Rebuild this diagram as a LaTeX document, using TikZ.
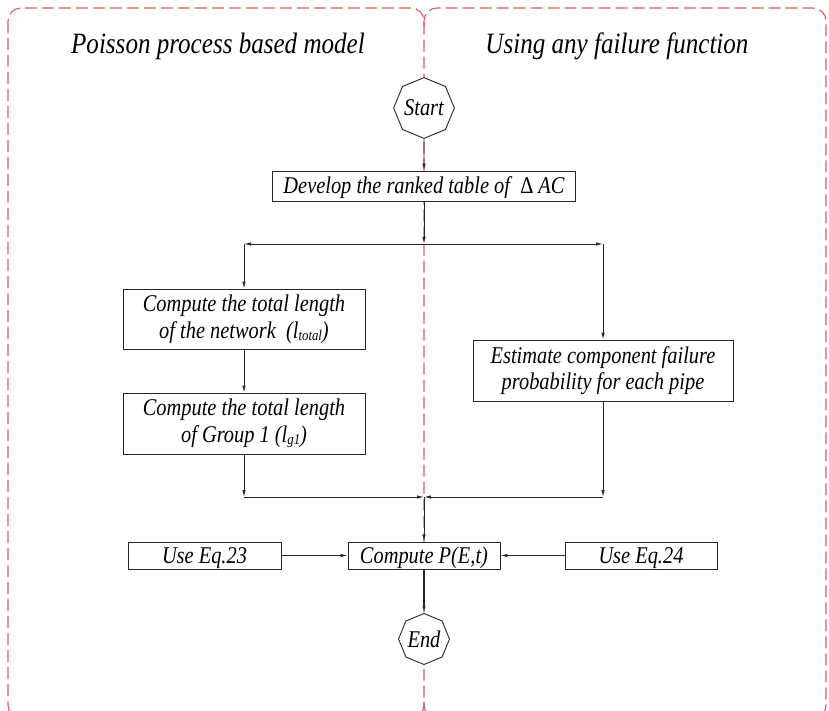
\documentclass[tikz,border=0pt]{standalone}
\usepackage{fontspec}
\setmainfont{Liberation Serif}[ItalicFont={Liberation Serif Italic}]
\newfontfamily\figfont{Liberation Serif}[ItalicFont={Liberation Serif Italic}, FakeStretch=0.85]
\usetikzlibrary{arrows.meta,shapes.geometric}
\definecolor{framered}{RGB}{226,88,98}
\definecolor{linegray}{RGB}{40,40,40}
\tikzset{
  frame/.style={draw=framered, line width=1.1pt, dash pattern=on 12pt off 5pt, rounded corners=13pt},
  box/.style={draw=linegray, line width=0.9pt, rectangle, inner sep=0pt, align=center,
    font=\figfont\fontsize{24}{26.5}\selectfont\itshape},
  onebox/.style={box, text height=19pt, text depth=4pt},
  oct/.style={draw=linegray, line width=0.9pt, regular polygon, regular polygon sides=8,
    shape border rotate=22.5, minimum size=51pt, inner sep=0pt,
    font=\figfont\fontsize{24}{26}\selectfont\itshape},
  title/.style={font=\figfont\fontsize{29.5}{32}\selectfont\itshape, inner sep=0pt},
  conn/.style={draw=linegray, line width=0.9pt},
  arr/.style={conn, -{Latex[length=7pt,width=3.5pt]}},
}
\newcommand{\sbs}[1]{\raisebox{-2pt}{\fontsize{15}{15}\selectfont #1}}
\begin{document}
\begin{tikzpicture}[x=1pt,y=-1pt]
\useasboundingbox (0,0) rectangle (829,711);
\clip (0,0) rectangle (829,711);
% frames
\draw[frame] (8,8) rectangle (424,718);
\draw[frame] (424,26) -- (424,8) -- (826,8) -- (826,718) -- (424,718) -- (424,700);
% titles
\node[title] (tl) at (218,46) {Poisson process based model};
\node[title] (tr) at (617,46) {Using any failure function};
% nodes
\node[oct, fill=white] (start) at (424,108) {Start};
\node[onebox, fill=white, minimum width=303pt, minimum height=30pt] (dev) at (424,186) {Develop the ranked table of \ {\upshape Δ} AC};
\node[box, minimum width=242pt, minimum height=60pt] (b1) at (244,319) {Compute the total length\\of the network \ (l\sbs{total})};
\node[box, minimum width=242pt, minimum height=61pt] (b2) at (244,423.5) {Compute the total length\\of Group 1 (l\sbs{g1})};
\node[box, minimum width=260pt, minimum height=61pt] (b3) at (603,370.5) {Estimate component failure\\probability for each pipe};
\node[onebox, minimum width=153pt, minimum height=27pt] (eq23) at (204.5,555.5) {Use Eq.23};
\node[onebox, fill=white, minimum width=152pt, minimum height=27pt] (comp) at (424,555.5) {Compute P(E,t)};
\node[onebox, minimum width=152pt, minimum height=27pt] (eq24) at (641,555.5) {Use Eq.24};
\node[oct, fill=white] (end) at (424,639) {End};
% junction coordinates
\coordinate (split) at (424,244);
\coordinate (sl) at (244,244);
\coordinate (sr) at (603,244);
\coordinate (merge) at (424,497);
\coordinate (ml) at (244,497);
\coordinate (mr) at (603,497);
% connectors
\draw[arr] (start.south) -- (dev.north);
\draw[arr] (dev.south) -- (split);
\draw[arr] (split) -- (sl);
\draw[arr] (split) -- (sr);
\draw[arr] (sl) -- (b1.north);
\draw[arr] (sr) -- (b3.north);
\draw[arr] (b1.south) -- (b2.north);
\draw[arr] (b2.south) -- (ml);
\draw[arr] (b3.south) -- (mr);
\draw[arr] (ml) -- (merge);
\draw[arr] (mr) -- (merge);
\draw[arr] (merge) -- (comp.north);
\draw[arr] (eq23.east) -- (comp.west);
\draw[arr] (eq24.west) -- (comp.east);
\draw[arr, line width=1.6pt] (comp.south) -- (end.north);
\end{tikzpicture}
\end{document}
